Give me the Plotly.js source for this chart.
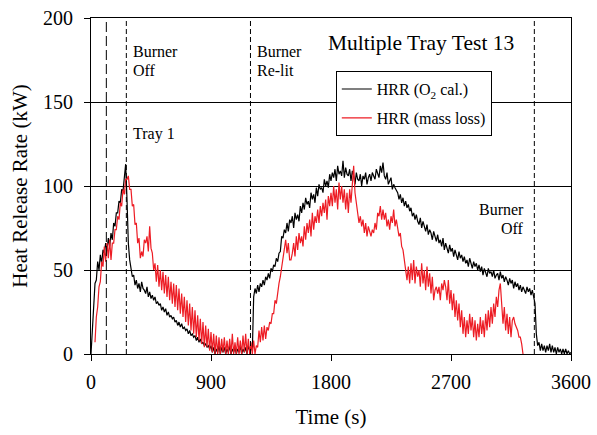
<!DOCTYPE html>
<html>
<head>
<meta charset="utf-8">
<script src="https://cdn.plot.ly/plotly-3.0.1.min.js"></script>
<style>html,body{margin:0;padding:0;background:#fff;}#chart{width:597px;height:435px;}</style>
</head>
<body>
<div id="chart"></div>
<script>
// Heat release rate, O2 calorimetry (kW), sampled every 10 s from t = 0 s
const o2Start = 0, o2Step = 10;
const hrrO2 = [
 0,16,26,42,44,55,50,59,54,62,
 60,66,62,69,64,72,68,78,76,84,
 84,91,90,98,97,105,113,92,66,56,
 50,46,47,41,44,39,42,37,43,39,
 38,36,40,34,37,33,35,32,34,30,
 31,29,30,26,28,25,27,23,25,22,
 23,21,22,19,20,17,19,16,18,15,
 16,14,15,12,14,11,12,10,11,8,
 10,7,9,6,7,5,6,4,5,3,
 5,1,4,0,3,1,5,0,4,1,
 4,0,3,1,5,0,3,1,4,0,
 3,1,5,0,3,1,4,0,5,2,
 4,2,34,39,36,41,37,42,40,44,
 41,46,44,48,45,51,49,53,52,57,
 55,60,61,70,69,74,72,78,73,80,
 78,82,75,84,80,83,79,88,84,90,
 86,93,89,91,87,96,92,95,90,99,
 94,101,98,99,96,104,100,103,99,107,
 103,108,105,110,103,112,107,109,106,115,
 105,111,107,106,110,103,109,106,101,108,
 104,103,107,100,106,104,108,101,105,107,
 103,108,106,104,110,107,105,112,108,114,
 106,104,108,101,103,105,98,101,99,97,
 96,92,95,90,93,88,91,87,89,85,
 87,82,84,80,83,79,77,81,75,79,
 76,73,77,71,74,72,68,73,70,67,
 71,66,68,64,69,62,66,63,60,65,
 61,63,58,62,59,56,61,57,59,55,
 58,54,56,52,57,53,51,55,52,54,
 50,53,49,52,47,51,49,46,51,48,
 49,46,50,45,47,48,44,49,45,47,
 43,46,44,41,45,42,44,39,43,40,
 42,38,41,37,40,38,36,40,37,39,
 35,38,34,30,12,5,7,2,6,2,
 5,1,5,2,6,1,5,1,4,0,
 4,1,3,0,3,0,3,0,2,0,
 1
];

// Heat release rate from mass loss (kW), sampled every 10 s from t = 30 s
const massStart = 30, massStep = 10;
const hrrMass = [
 7,22,28,40,43,55,52,
 64,55,66,57,68,56,66,66,74,74,
 82,80,90,88,98,95,104,104,106,98,
 98,88,89,77,78,66,69,57,61,58,
 68,66,70,61,76,63,60,50,54,43,
 53,40,50,38,49,36,47,34,46,32,
 43,30,42,28,41,26,39,24,36,22,
 34,19,32,17,30,14,28,12,26,10,
 23,8,21,6,19,4,17,4,15,2,
 13,1,12,0,11,0,10,0,9,1,
 10,0,8,0,9,0,12,0,7,0,
 10,0,8,0,11,1,12,0,9,0,
 7,0,8,0,5,4,14,7,16,8,
 17,9,16,14,19,18,24,24,32,30,
 38,42,46,52,58,64,68,60,66,56,
 56,60,66,58,70,62,72,66,70,64,
 76,68,78,72,80,70,84,74,82,78,
 86,78,88,82,90,84,92,80,94,88,
 96,88,100,90,98,86,102,92,100,90,
 98,86,96,84,98,90,102,112,96,90,
 86,78,82,76,80,72,78,70,76,72,
 70,74,72,78,74,84,82,88,80,86,
 80,84,76,80,74,82,78,86,76,80,
 74,70,72,64,62,56,52,44,52,42,
 54,44,56,42,52,46,50,40,54,42,
 50,38,52,40,48,36,46,32,38,40,
 36,40,32,42,38,44,40,32,44,30,
 38,26,36,22,32,20,30,16,26,12,
 22,10,20,12,24,14,22,10,20,8,
 18,10,22,12,20,10,24,14,26,16,
 28,18,30,22,34,28,38,42,30,18,
 28,14,24,12,22,10,20,22,18,16,
 14,10,10,6,0
];

const seriesNames = ['HRR (O<sub>2</sub> cal.)', 'HRR (mass loss)'];
const xTicks = [0, 900, 1800, 2700, 3600];
const yTicks = [0, 50, 100, 150, 200];
const eventTimes = [115, 265, 1196, 3325];
const eventDash = ['10px,4px', '5px,3px', '5px,3px', '5px,3px'];

// Text labels placed on the chart
const labelTexts = ['Burner', 'Off', 'Tray 1', 'Burner', 'Re-lit', 'Burner', 'Off', 'Multiple Tray Test 13'];
const labelX = [300, 300, 300, 1230, 1230, 3262, 3262, 1760];
const labelY = [179.8, 169, 131, 179.8, 169, 86, 74.8, 185];
const labelAnchor = ['left', 'left', 'left', 'left', 'left', 'right', 'right', 'left'];
const labelSize = [16, 16, 16, 16, 16, 16, 16, 21.5];

const o2Time = hrrO2.map((_, i) => o2Start + i * o2Step);
const massTime = hrrMass.map((_, i) => massStart + i * massStep);

const font = 'Liberation Serif, Times New Roman, serif';

const traces = [
  {x: o2Time, y: hrrO2, type: 'scatter', mode: 'lines', name: seriesNames[0],
   line: {color: '#000000', width: 1.2}, legendgroup: 'a'},
  {x: massTime, y: hrrMass, type: 'scatter', mode: 'lines', name: seriesNames[1],
   line: {color: '#ed1c24', width: 1.2}, legendgroup: 'b'}
];

const shapes = eventTimes.map((t, i) => ({
  type: 'line', xref: 'x', yref: 'paper', x0: t, x1: t, y0: 0, y1: 1,
  line: {color: '#000000', width: 1, dash: eventDash[i]}, layer: 'above'
}));

const annotations = labelTexts.map((txt, i) => ({
  text: txt, x: labelX[i], y: labelY[i], xref: 'x', yref: 'y',
  xanchor: labelAnchor[i], yanchor: 'middle', showarrow: false,
  font: {family: font, size: labelSize[i], color: '#000'}
}));

const layout = {
  width: 597, height: 435,
  margin: {l: 91, r: 26, t: 18, b: 81},
  paper_bgcolor: '#ffffff', plot_bgcolor: '#ffffff',
  font: {family: font, color: '#000000', size: 20},
  showlegend: true,
  legend: {x: 0.51, y: 0.842, xanchor: 'left', yanchor: 'top',
    bgcolor: '#ffffff', bordercolor: '#000000', borderwidth: 1,
    font: {family: font, size: 16, color: '#000'}, tracegroupgap: 5,
    traceorder: 'grouped'},
  xaxis: {range: [0, 3600], tickvals: xTicks, ticktext: xTicks.map(String),
    showgrid: false, zeroline: false, showline: true, linecolor: '#000', linewidth: 1,
    mirror: true, ticks: 'outside', ticklen: 6, tickcolor: '#000', ticklabelstandoff: 4,
    tickfont: {family: font, size: 20, color: '#000'},
    title: {text: 'Time (s)', font: {family: font, size: 21, color: '#000'}, standoff: 17}},
  yaxis: {range: [0, 200], tickvals: yTicks, ticktext: yTicks.map(String),
    showgrid: true, gridcolor: '#000', gridwidth: 1, zeroline: false,
    showline: true, linecolor: '#000', linewidth: 1, mirror: true,
    ticks: 'outside', ticklen: 6, tickcolor: '#000', ticklabelstandoff: 7,
    tickfont: {family: font, size: 20, color: '#000'},
    title: {text: 'Heat Release Rate (kW)', font: {family: font, size: 21, color: '#000'}, standoff: 9}},
  shapes: shapes,
  annotations: annotations
};

Plotly.newPlot('chart', traces, layout, {displayModeBar: false, staticPlot: true});
</script>
</body>
</html>
